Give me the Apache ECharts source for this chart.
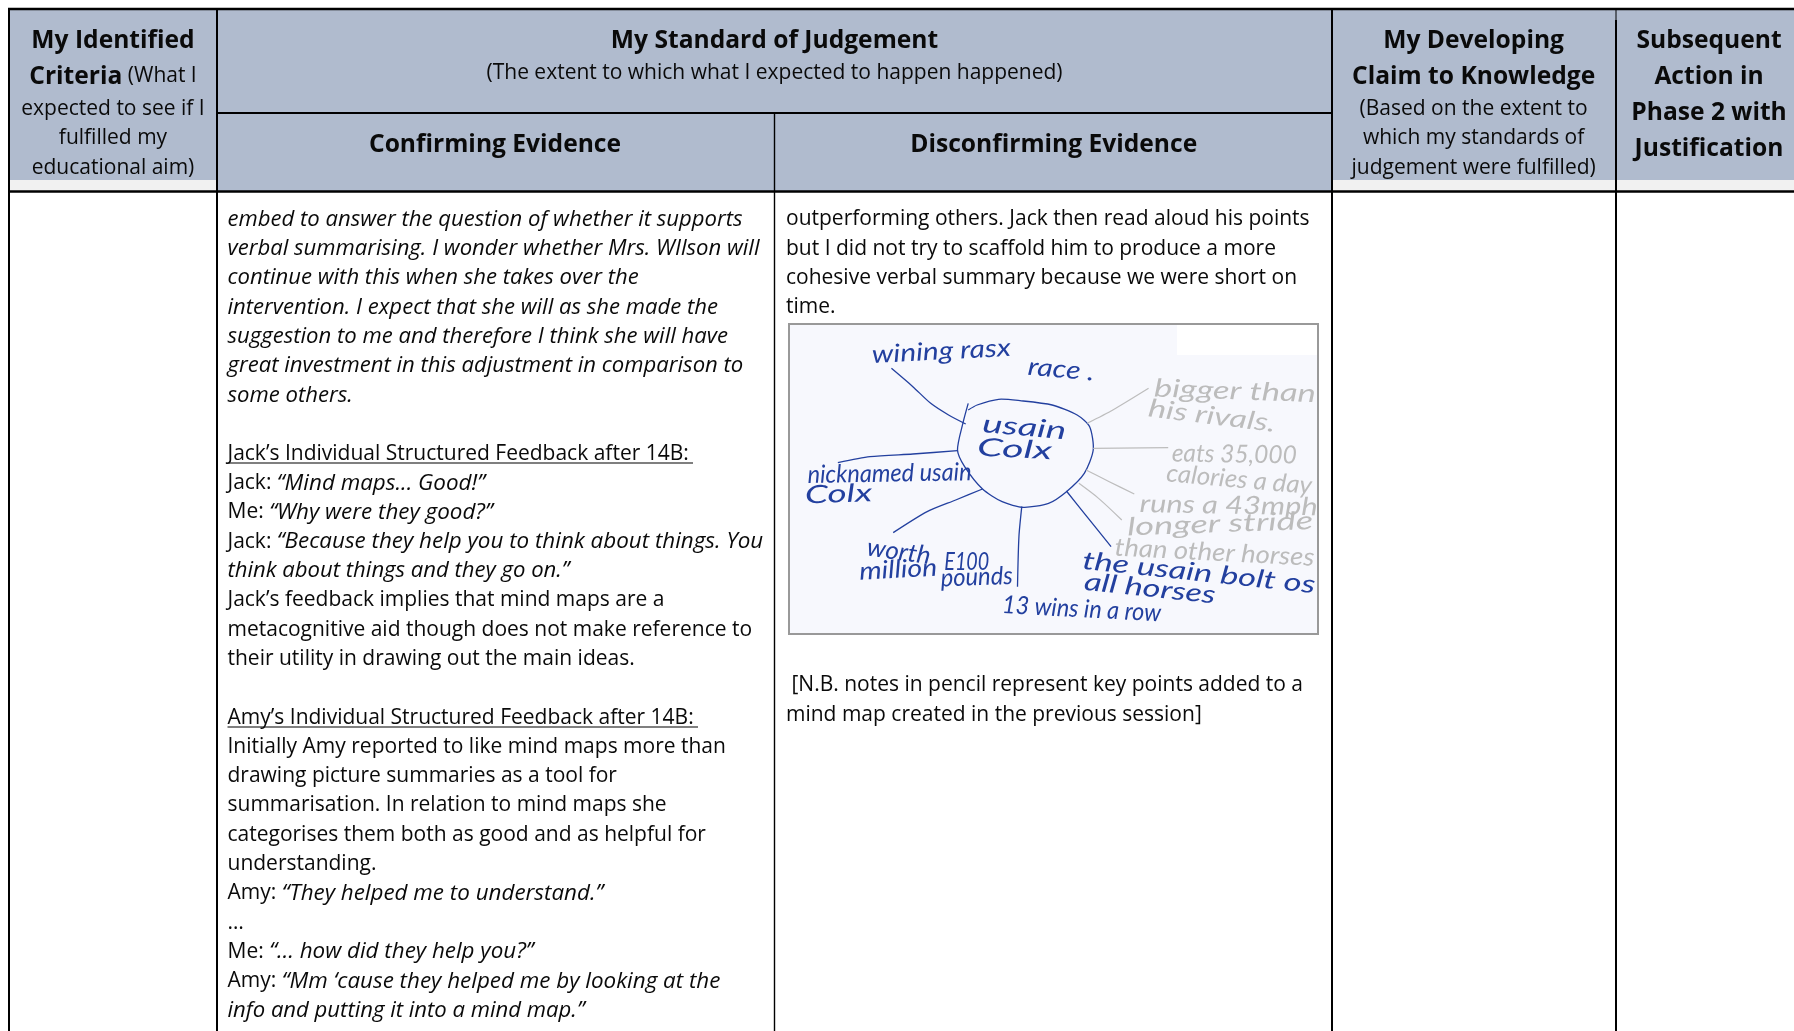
<!DOCTYPE html>
<html><head><meta charset="utf-8">
<style>html,body{margin:0;padding:0;background:#fff}#c{width:1794px;height:1031px}</style>
<script src="https://cdn.jsdelivr.net/npm/echarts@6/dist/echarts.min.js"></script>
</head><body><div id="c"></div>
<script>
// ---- table content ----
const criteriaHead = ["{b|My Identified}", "{b|Criteria} (What I", "expected to see if I", "fulfilled my", "educational aim)"];
const standardHead = ["{b|My Standard of Judgement}", "(The extent to which what I expected to happen happened)"];
const evidenceHead = ["Confirming Evidence", "Disconfirming Evidence"];
const claimHead = ["{b|My Developing}", "{b|Claim to Knowledge}", "(Based on the extent to", "which my standards of", "judgement were fulfilled)"];
const actionHead = ["Subsequent", "Action in", "Phase 2 with", "Justification"];
const confirmingLines = [
 "{i|embed to answer the question of whether it supports}",
 "{i|verbal summarising. I wonder whether Mrs. WIlson will}",
 "{i|continue with this when she takes over the}",
 "{i|intervention. I expect that she will as she made the}",
 "{i|suggestion to me and therefore I think she will have}",
 "{i|great investment in this adjustment in comparison to}",
 "{i|some others.}",
 "",
 "Jack’s Individual Structured Feedback after 14B:",
 "Jack: {q|“Mind maps... Good!”}",
 "Me: {q|“Why were they good?”}",
 "Jack: {q|“Because they help you to think about things. You}",
 "{i|think about things and they go on.”}",
 "Jack’s feedback implies that mind maps are a",
 "metacognitive aid though does not make reference to",
 "their utility in drawing out the main ideas.",
 "",
 "Amy’s Individual Structured Feedback after 14B:",
 "Initially Amy reported to like mind maps more than",
 "drawing picture summaries as a tool for",
 "summarisation. In relation to mind maps she",
 "categorises them both as good and as helpful for",
 "understanding.",
 "Amy: {q|“They helped me to understand.”}",
 "…",
 "Me: {q|“… how did they help you?”}",
 "Amy: {q|“Mm ‘cause they helped me by looking at the}",
 "{i|info and putting it into a mind map.”}"
];
const disconfirmingLines = [
 "outperforming others. Jack then read aloud his points",
 "but I did not try to scaffold him to produce a more",
 "cohesive verbal summary because we were short on",
 "time."
];
const noteLines = [" [N.B. notes in pencil represent key points added to a", "mind map created in the previous session]"];
const sketchInk = [
 ["wining rasx", 285, 135, -3, 139], ["race .", 722, 170, 5, 67], ["usain", 595, 342, 5, 84], ["Colx", 580, 412, 3, 75],
 ["nicknamed usain", 105, 495, -1, 164], ["Colx", 98, 556, -2, 67], ["worth", 272, 712, 8, 64], ["E100", 488, 755, 0, 45],
 ["million", 250, 785, -3, 78], ["pounds", 478, 805, -2, 72], ["13 wins in a row", 650, 885, 3, 159],
 ["the usain bolt os", 875, 752, 6, 234], ["all horses", 880, 815, 6, 132]
];
const sketchPencil = [
 ["bigger than", 1075, 235, 2, 162], ["his rivals.", 1060, 295, 7, 128], ["eats 35,000", 1125, 430, 1, 125],
 ["calories a day", 1110, 490, 5, 146], ["runs a 43mph", 1035, 582, 1, 178], ["longer stride", 1000, 652, -2, 186],
 ["than other horses", 965, 712, 3, 200]
];
const inkStrokes = [
 [[555,280],[540,340],[525,420],[545,470],[595,537],[650,575],[710,592],[780,580],[830,545],[880,490],[905,420],[895,350],[860,315],[790,285],[700,272],[640,268],[580,285],[555,300]],
 [[340,175],[400,230],[450,280],[500,315],[548,342]],
 [[190,458],[280,440],[400,432],[525,422]],
 [[595,537],[520,570],[440,605],[345,668]],
 [[705,590],[697,680],[693,830]],
 [[830,543],[880,610],[955,710]]
];
const pencilStrokes = [
 [[888,340],[960,300],[1060,235]],
 [[905,415],[1115,413]],
 [[885,480],[950,515],[1020,552]],
 [[865,520],[920,565],[985,630]]
];

// ---- layout and drawing ----
const FONT = 'Open Sans';
const SIZE = 21, ITAL = 22.1, QUOTE = 22.4, BOLD = 24.6, PITCH = 29.3;
const HEAD = '#b0bbce', STRIP = '#f1f1f1', INK = '#0a0a0a';
const els = [];
const rich = {
  b:{fontFamily:FONT,fontWeight:'bold',fontSize:BOLD,fill:INK},
  i:{fontFamily:FONT,fontStyle:'italic',fontSize:ITAL,fill:INK},
  q:{fontFamily:FONT,fontStyle:'italic',fontSize:QUOTE,fill:INK}
};
function rect(x,y,w,h,fill){els.push({type:'rect',shape:{x,y,width:w,height:h},style:{fill},z:1,silent:true});}
function rule(x1,y1,x2,y2,w){els.push({type:'line',shape:{x1,y1,x2,y2},style:{stroke:'#000',lineWidth:w},z:3,silent:true});}
function txt(s,x,y,align,opt){
  const o=opt||{};
  els.push({type:'text',x,y,z:4,silent:true,style:Object.assign({text:s,x:0,y:0,align:align||'left',verticalAlign:'middle',
    fontFamily:FONT,fontSize:SIZE,fill:INK,rich},o)});
}
// header fills
rect(9,9,208,171,HEAD); rect(9,180,208,11,STRIP);
rect(217,9,1115,182,HEAD);
rect(1332,9,284,171,HEAD); rect(1332,180,284,11,STRIP);
rect(1616,9,178,171,HEAD); rect(1616,180,178,11,STRIP);
// rules
rule(8,9,1794,9,2.4);
rule(8,191.5,1794,191.5,2.4);
rule(9,8,9,1031,2);
rule(217,8,217,1031,2);
rule(774.5,113,774.5,1031,1.4);
rule(1332,8,1332,1031,2);
rule(1616,20,1616,1031,2);
rule(1616,9,1616,20,1);
rule(217,113,1332,113,2);
// headers
const hy=[40.5,76.5,109.5,138.5,168];
criteriaHead.forEach((s,i)=>txt(s,113,hy[i],'center'));
claimHead.forEach((s,i)=>txt(s,1473.6,hy[i],'center'));
txt(standardHead[0],774.5,40.5,'center'); txt(standardHead[1],774.5,73.5,'center');
txt(evidenceHead[0],495,144.5,'center',{fontWeight:'bold',fontSize:BOLD});
txt(evidenceHead[1],1053.7,144.5,'center',{fontWeight:'bold',fontSize:BOLD});
[40.5,76.5,112.5,148.5].forEach((y,i)=>txt(actionHead[i],1709,y,'center',{fontWeight:'bold',fontSize:BOLD}));
// body
confirmingLines.forEach((s,i)=>{ if(s) txt(s,227.5,219.5+PITCH*i,'left'); });
rule(227.5,463,693,463,1.2); rule(227.5,727,698,727,1.2);
disconfirmingLines.forEach((s,i)=>txt(s,786,219.5+PITCH*i,'left'));
noteLines.forEach((s,i)=>txt(s,786,685.5+PITCH*i,'left'));
// student's sketch
const sx=v=>770+v/2.8, sy=v=>310+v/3;
rect(790,325,527,308,'#f7f8fd');
els.push({type:'rect',shape:{x:789,y:324,width:529,height:310},style:{fill:'none',stroke:'#999',lineWidth:2},z:3,silent:true});
rect(1177,325,140,30,'#fff');
inkStrokes.forEach(p=>els.push({type:'polyline',shape:{points:p.map(q=>[sx(q[0]),sy(q[1])]),smooth:0.25},style:{stroke:'#23409f',lineWidth:1.3,fill:'none'},z:4,silent:true}));
pencilStrokes.forEach(p=>els.push({type:'polyline',shape:{points:p.map(q=>[sx(q[0]),sy(q[1])]),smooth:0.25},style:{stroke:'#bdbdbd',lineWidth:1.2,fill:'none'},z:4,silent:true}));
const HAND_SIZE = 25;
const probe = document.createElement('canvas').getContext('2d');
function hand(list,color){ list.forEach(h=>{
  probe.font = 'italic '+HAND_SIZE+'px Lato';
  const k = h[4]/probe.measureText(h[0]).width;
  els.push({type:'text',x:sx(h[1]),y:sy(h[2]),rotation:-h[3]*Math.PI/180,scaleX:k,z:4,silent:true,
   style:{text:h[0],x:0,y:0,verticalAlign:'middle',fontFamily:'Lato',fontStyle:'italic',fontSize:HAND_SIZE,fill:color}});
}); }
hand(sketchInk,'#23409f'); hand(sketchPencil,'#bcbcbc');

const chart=echarts.init(document.getElementById('c'),null,{renderer:'canvas'});
chart.setOption({animation:false,backgroundColor:'#fff',graphic:{elements:els}});
</script></body></html>
